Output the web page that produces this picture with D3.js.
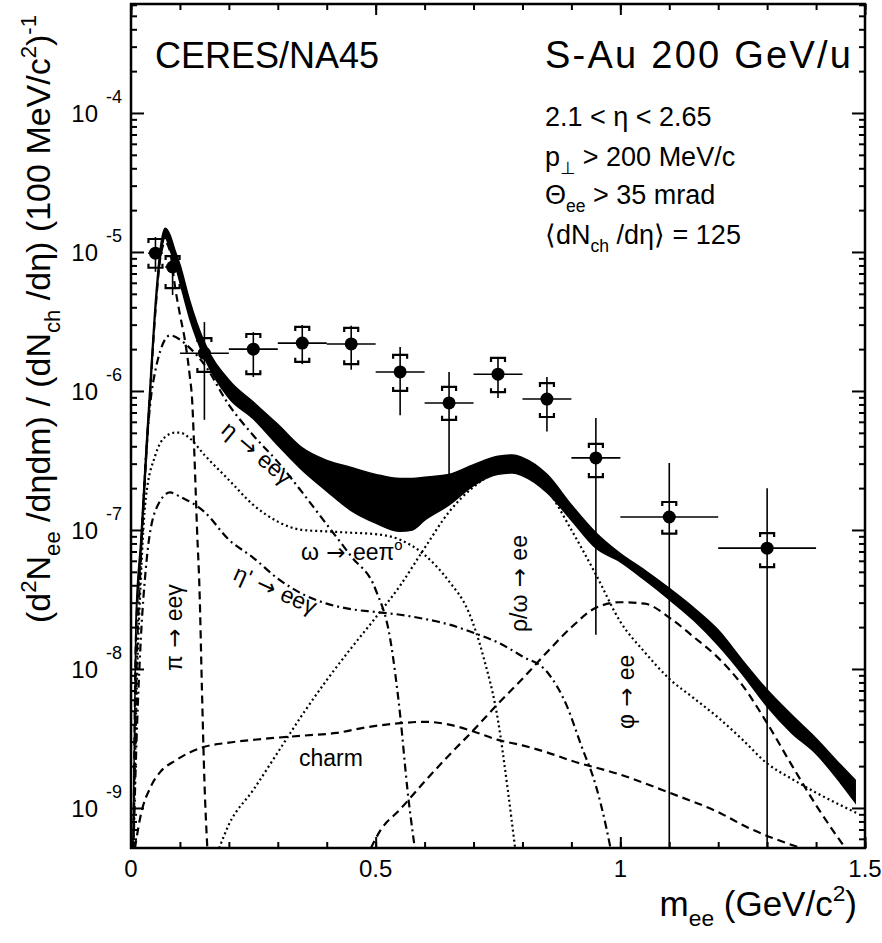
<!DOCTYPE html>
<html>
<head>
<meta charset="utf-8">
<script src="https://cdn.jsdelivr.net/npm/d3@7"></script>
<style>
  body { margin: 0; background: #fff; }
  text { font-family: "Liberation Sans", Arial, Helvetica, sans-serif; fill: #000; }
</style>
</head>
<body>
<svg id="chart" width="882" height="943"></svg>
<script>
// measured points (CERES/NA45 S-Au), bin centres in GeV/c^2
var dataM = [0.05, 0.085, 0.15, 0.25, 0.35, 0.45, 0.55, 0.65, 0.75, 0.85, 0.95, 1.1, 1.3];
var dataHalfWidth = [0.015, 0.015, 0.05, 0.05, 0.05, 0.05, 0.05, 0.05, 0.05, 0.05, 0.05, 0.1, 0.1];
var dataYield = [9.8e-6, 7.8e-6, 1.87e-6, 2.0e-6, 2.21e-6, 2.18e-6, 1.37e-6, 8.2e-7, 1.32e-6, 8.75e-7, 3.3e-7, 1.24e-7, 7.4e-8];
var statHi = [1.28e-5, 1.03e-5, 3.13e-6, 2.65e-6, 2.98e-6, 2.94e-6, 2.07e-6, 1.37e-6, 1.73e-6, 1.26e-6, 6.4e-7, 3.03e-7, 2.0e-7];
var statLo = [7.2e-6, 4.9e-6, 6.2e-7, 1.26e-6, 1.56e-6, 1.42e-6, 6.7e-7, 2.4e-7, 8.9e-7, 5.1e-7, 1.76e-8, 1e-10, 1e-10];
var sysHi = [1.24e-5, 9.35e-6, 2.4e-6, 2.57e-6, 2.89e-6, 2.84e-6, 1.82e-6, 1.07e-6, 1.73e-6, 1.14e-6, 4.16e-7, 1.59e-7, 9.5e-8];
var sysLo = [7.7e-6, 5.5e-6, 1.37e-6, 1.32e-6, 1.62e-6, 1.56e-6, 1.0e-6, 6.2e-7, 9.8e-7, 6.5e-7, 2.4e-7, 9.4e-8, 5.4e-8];

// cocktail curves, values given as log10 of the yield
var bandM = [0.004, 0.01, 0.02, 0.03, 0.04, 0.05, 0.06, 0.07, 0.08, 0.09, 0.1, 0.12, 0.15, 0.2, 0.25, 0.3, 0.35, 0.4, 0.45, 0.5, 0.55, 0.575, 0.6, 0.65, 0.7, 0.75, 0.78, 0.8, 0.85, 0.9, 0.95, 1.0, 1.05, 1.1, 1.15, 1.2, 1.25, 1.3, 1.35, 1.4, 1.45, 1.48];
var bandHi = [-9.3, -7.65, -7.07, -6.46, -5.89, -5.35, -4.97, -4.83, -4.88, -4.99, -5.09, -5.35, -5.65, -5.92, -6.08, -6.24, -6.41, -6.50, -6.55, -6.60, -6.63, -6.63, -6.62, -6.60, -6.53, -6.47, -6.46, -6.48, -6.60, -6.82, -7.02, -7.17, -7.29, -7.42, -7.56, -7.72, -7.94, -8.15, -8.33, -8.50, -8.69, -8.80];
var bandLo = [-9.3, -7.72, -7.18, -6.57, -5.99, -5.43, -5.04, -4.90, -4.99, -5.09, -5.22, -5.48, -5.76, -6.05, -6.20, -6.39, -6.57, -6.72, -6.86, -6.95, -7.01, -7.00, -6.93, -6.82, -6.68, -6.60, -6.59, -6.61, -6.73, -6.93, -7.13, -7.23, -7.36, -7.50, -7.65, -7.83, -8.04, -8.27, -8.46, -8.61, -8.82, -8.96];

var piM = [0.005, 0.01, 0.02, 0.03, 0.04, 0.05, 0.06, 0.07, 0.08, 0.09, 0.1, 0.11, 0.12, 0.125, 0.13, 0.135, 0.14, 0.145, 0.15, 0.156];
var piY = [-9.3, -7.79, -7.18, -6.53, -5.96, -5.42, -5.04, -4.93, -5.00, -5.25, -5.45, -5.63, -5.89, -6.07, -6.50, -7.00, -7.43, -8.15, -8.80, -9.29];

var etaM = [0.005, 0.01, 0.02, 0.03, 0.04, 0.05, 0.06, 0.08, 0.1, 0.12, 0.15, 0.2, 0.25, 0.3, 0.35, 0.4, 0.45, 0.5, 0.53, 0.55, 0.565, 0.58];
var etaY = [-9.3, -8.22, -7.22, -6.50, -6.07, -5.85, -5.71, -5.60, -5.63, -5.69, -5.81, -6.10, -6.32, -6.51, -6.73, -6.96, -7.19, -7.43, -7.79, -8.33, -8.87, -9.29];

var omegaM = [0.005, 0.01, 0.02, 0.03, 0.05, 0.07, 0.09, 0.1, 0.12, 0.15, 0.2, 0.25, 0.3, 0.35, 0.4, 0.45, 0.5, 0.55, 0.6, 0.65, 0.69, 0.72, 0.75, 0.77, 0.785];
var omegaY = [-9.3, -8.37, -7.36, -6.78, -6.46, -6.33, -6.30, -6.30, -6.34, -6.46, -6.64, -6.82, -6.94, -7.00, -7.01, -7.02, -7.03, -7.07, -7.18, -7.37, -7.59, -7.91, -8.37, -8.87, -9.29];

var etapM = [0.005, 0.01, 0.02, 0.03, 0.05, 0.08, 0.1, 0.15, 0.2, 0.25, 0.3, 0.35, 0.4, 0.45, 0.5, 0.55, 0.6, 0.65, 0.7, 0.75, 0.8, 0.85, 0.89, 0.92, 0.95, 0.97, 0.98];
var etapY = [-9.3, -8.66, -7.79, -7.29, -6.86, -6.73, -6.76, -6.87, -7.07, -7.20, -7.35, -7.46, -7.53, -7.57, -7.59, -7.61, -7.64, -7.68, -7.74, -7.81, -7.91, -8.02, -8.26, -8.55, -8.84, -9.12, -9.29];

var rhoM = [0.18, 0.2, 0.25, 0.3, 0.35, 0.4, 0.45, 0.5, 0.55, 0.6, 0.65, 0.7, 0.75, 0.78, 0.8, 0.85, 0.9, 0.95, 1.0, 1.05, 1.1, 1.15, 1.2, 1.25, 1.3, 1.35, 1.4, 1.45, 1.485];
var rhoY = [-9.29, -9.12, -8.87, -8.60, -8.33, -8.08, -7.85, -7.63, -7.40, -7.13, -6.87, -6.69, -6.58, -6.55, -6.58, -6.71, -7.00, -7.32, -7.66, -7.88, -8.07, -8.21, -8.35, -8.51, -8.68, -8.79, -8.89, -8.98, -9.04];

var phiM = [0.49, 0.51, 0.55, 0.6, 0.65, 0.7, 0.75, 0.8, 0.85, 0.9, 0.95, 1.0, 1.05, 1.1, 1.15, 1.2, 1.25, 1.3, 1.35, 1.4, 1.44, 1.46];
var phiY = [-9.29, -9.16, -9.01, -8.81, -8.62, -8.44, -8.25, -8.07, -7.88, -7.70, -7.56, -7.52, -7.53, -7.63, -7.77, -7.92, -8.12, -8.39, -8.69, -8.98, -9.19, -9.29];

var charmM = [0.008, 0.02, 0.04, 0.06, 0.09, 0.15, 0.2, 0.28, 0.35, 0.42, 0.48, 0.55, 0.6, 0.65, 0.7, 0.75, 0.8, 0.85, 0.9, 1.0, 1.1, 1.2, 1.26, 1.37];
var charmY = [-9.29, -9.05, -8.85, -8.74, -8.66, -8.56, -8.53, -8.50, -8.48, -8.46, -8.42, -8.39, -8.38, -8.40, -8.45, -8.51, -8.55, -8.60, -8.66, -8.76, -8.89, -9.03, -9.14, -9.29];

var xMajorTicks = [0, 0.5, 1, 1.5];
var xTickLabels = ["0", "0.5", "1", "1.5"];
var yDecades = [-9, -8, -7, -6, -5, -4];

var width = 882, height = 943;
var plotLeft = 131, plotRight = 865, plotTop = 4, plotBottom = 848;

var svg = d3.select("#chart");

var x = d3.scaleLinear().domain([0, 1.5]).range([plotLeft, plotRight]);
var y = d3.scaleLog()
  .domain([Math.pow(10, -9.288), Math.pow(10, -3.216)])
  .range([plotBottom, plotTop]);

var pow10 = function(v) { return Math.pow(10, v); };

svg.append("clipPath").attr("id", "plotclip")
  .append("rect")
  .attr("x", plotLeft).attr("y", plotTop)
  .attr("width", plotRight - plotLeft).attr("height", plotBottom - plotTop);

var plot = svg.append("g").attr("clip-path", "url(#plotclip)");

// total cocktail band
var band = bandM.map(function(m, i) { return {m: m, hi: pow10(bandHi[i]), lo: pow10(bandLo[i])}; });
plot.append("path")
  .datum(band)
  .attr("d", d3.area()
    .x(function(d) { return x(d.m); })
    .y0(function(d) { return y(d.lo); })
    .y1(function(d) { return y(d.hi); })
    .curve(d3.curveMonotoneX))
  .attr("fill", "#000")
  .attr("stroke", "#000")
  .attr("stroke-width", 1.5);

// individual sources
var sources = [
  {m: piM, v: piY, dash: "8,5"},
  {m: etaM, v: etaY, dash: "8,4,2,4"},
  {m: omegaM, v: omegaY, dash: "2,3"},
  {m: etapM, v: etapY, dash: "8,4,2,4"},
  {m: rhoM, v: rhoY, dash: "2,3"},
  {m: phiM, v: phiY, dash: "8,5"},
  {m: charmM, v: charmY, dash: "8,5"}
];

var line = d3.line()
  .x(function(d) { return x(d[0]); })
  .y(function(d) { return y(d[1]); })
  .curve(d3.curveMonotoneX);

sources.forEach(function(s) {
  plot.append("path")
    .datum(s.m.map(function(m, i) { return [m, pow10(s.v[i])]; }))
    .attr("d", line)
    .attr("fill", "none")
    .attr("stroke", "#000")
    .attr("stroke-width", 2.2)
    .attr("stroke-dasharray", s.dash);
});

// data points with errors
var points = dataM.map(function(m, i) {
  return {m: m, w: dataHalfWidth[i], v: dataYield[i],
    sHi: statHi[i], sLo: statLo[i], yHi: sysHi[i], yLo: sysLo[i]};
});

var pts = plot.selectAll("g.pt").data(points).enter().append("g").attr("class", "pt");

pts.append("line")
  .attr("x1", function(d) { return x(d.m - d.w); })
  .attr("x2", function(d) { return x(d.m + d.w); })
  .attr("y1", function(d) { return y(d.v); })
  .attr("y2", function(d) { return y(d.v); })
  .attr("stroke", "#000").attr("stroke-width", 1.6);

pts.append("line")
  .attr("x1", function(d) { return x(d.m); })
  .attr("x2", function(d) { return x(d.m); })
  .attr("y1", function(d) { return y(d.sHi); })
  .attr("y2", function(d) { return y(d.sLo); })
  .attr("stroke", "#000").attr("stroke-width", 1.6);

var capW = 7, capH = 4;
pts.append("path")
  .attr("d", function(d) {
    var cx = x(d.m), t = y(d.yHi), b = y(d.yLo);
    return "M" + (cx - capW) + "," + (t + capH) + "V" + t + "H" + (cx + capW) + "V" + (t + capH) +
      "M" + (cx - capW) + "," + (b - capH) + "V" + b + "H" + (cx + capW) + "V" + (b - capH);
  })
  .attr("fill", "none").attr("stroke", "#000").attr("stroke-width", 2.2);

pts.append("circle")
  .attr("cx", function(d) { return x(d.m); })
  .attr("cy", function(d) { return y(d.v); })
  .attr("r", 6.5)
  .attr("fill", "#000");

// frame and ticks
svg.append("rect")
  .attr("x", plotLeft).attr("y", plotTop)
  .attr("width", plotRight - plotLeft).attr("height", plotBottom - plotTop)
  .attr("fill", "none").attr("stroke", "#000").attr("stroke-width", 2.5);

var xMinor = d3.range(0, 16).map(function(i) { return i / 10; });
var yMinor = [];
for (var k = -10; k <= -4; k++) {
  for (var j = 2; j <= 9; j++) yMinor.push(j * Math.pow(10, k));
}
yMinor = yMinor.filter(function(v) { return v > y.domain()[0] && v < y.domain()[1]; });
var yMajor = yDecades.map(pow10);

function tickGroup(axis, tx) {
  var g = svg.append("g").attr("transform", tx).call(axis);
  g.select(".domain").remove();
  g.selectAll("line").attr("stroke", "#000").attr("stroke-width", 2);
  g.selectAll("text").remove();
  return g;
}

tickGroup(d3.axisBottom(x).tickValues(xMinor).tickSize(-6), "translate(0," + plotBottom + ")");
tickGroup(d3.axisBottom(x).tickValues(xMajorTicks).tickSize(-11), "translate(0," + plotBottom + ")");
tickGroup(d3.axisTop(x).tickValues(xMinor).tickSize(-6), "translate(0," + plotTop + ")");
tickGroup(d3.axisTop(x).tickValues(xMajorTicks).tickSize(-11), "translate(0," + plotTop + ")");
tickGroup(d3.axisLeft(y).tickValues(yMinor).tickSize(-6), "translate(" + plotLeft + ",0)");
tickGroup(d3.axisLeft(y).tickValues(yMajor).tickSize(-13), "translate(" + plotLeft + ",0)");
tickGroup(d3.axisRight(y).tickValues(yMinor).tickSize(-6), "translate(" + plotRight + ",0)");
tickGroup(d3.axisRight(y).tickValues(yMajor).tickSize(-13), "translate(" + plotRight + ",0)");

// tick labels
svg.selectAll("text.xtick").data(xMajorTicks).enter().append("text")
  .attr("class", "xtick")
  .attr("x", function(d) { return x(d); })
  .attr("y", 877)
  .attr("text-anchor", "middle")
  .style("font-size", "24px")
  .text(function(d, i) { return xTickLabels[i]; });

var ylab = svg.selectAll("g.ytick").data(yDecades).enter().append("g")
  .attr("class", "ytick")
  .attr("transform", function(d) { return "translate(0," + y(pow10(d)) + ")"; });
ylab.append("text")
  .attr("x", 98).attr("y", 9)
  .attr("text-anchor", "end")
  .style("font-size", "24px")
  .text("10");
ylab.append("text")
  .attr("x", 106).attr("y", -10)
  .style("font-size", "18px")
  .text(function(d) { return "-" + Math.abs(d); });

// text with sub/superscripts
function richText(sel, parts, size) {
  var shift = 0;
  parts.forEach(function(p) {
    var target = p.sup ? -0.42 * size : (p.sub ? 0.28 * size : 0);
    var ts = sel.append("tspan")
      .attr("dy", target - shift)
      .style("font-size", (p.sup || p.sub ? size * 0.65 : size) + "px")
      .text(p.t);
    if (p.font) ts.style("font-family", p.font);
    shift = target;
  });
  return sel;
}

richText(svg.append("text").attr("x", 857).attr("y", 916).attr("text-anchor", "end"),
  [{t: "m"}, {t: "ee", sub: true}, {t: " (GeV/c"}, {t: "2", sup: true}, {t: ")"}], 35);

richText(svg.append("text").attr("transform", "translate(50,623) rotate(-90)"),
  [{t: "(d"}, {t: "2", sup: true}, {t: "N"}, {t: "ee", sub: true}, {t: " /d\u03b7dm) / (dN"},
   {t: "ch", sub: true}, {t: " /d\u03b7) (100 MeV/c"}, {t: "2", sup: true}, {t: ")"}, {t: "-1", sup: true}], 34);

svg.append("text").attr("x", 155).attr("y", 68).style("font-size", "36px").text("CERES/NA45");
svg.append("text").attr("x", 545).attr("y", 68)
  .attr("textLength", 306).attr("lengthAdjust", "spacing")
  .style("font-size", "38px").text("S-Au 200 GeV/u");

var infoX = 545;
richText(svg.append("text").attr("x", infoX).attr("y", 126), [{t: "2.1 < \u03b7 < 2.65"}], 27);
richText(svg.append("text").attr("x", infoX).attr("y", 166),
  [{t: "p"}, {t: "\u22a5", sub: true, font: "DejaVu Sans"}, {t: " > 200 MeV/c"}], 27);
richText(svg.append("text").attr("x", infoX).attr("y", 204), [{t: "\u0398"}, {t: "ee", sub: true}, {t: " > 35 mrad"}], 27);
richText(svg.append("text").attr("x", infoX).attr("y", 244), [{t: "\u27e8dN"}, {t: "ch", sub: true}, {t: " /d\u03b7\u27e9 = 125"}], 27);

// source labels, arrows taken from DejaVu for a longer glyph
var arrow = {t: " \u2192 ", font: "DejaVu Sans"};
var lab = function(tx, parts, size) {
  return richText(svg.append("text").attr("transform", tx), parts, size);
};
lab("translate(220,432) rotate(40)", [{t: "\u03b7"}, arrow, {t: "ee\u03b3"}], 23);
lab("translate(301,560)", [{t: "\u03c9"}, arrow, {t: "ee\u03c0"}, {t: "o", sup: true}], 23);
lab("translate(232,579) rotate(24)", [{t: "\u03b7'"}, arrow, {t: "ee\u03b3"}], 23);
lab("translate(182,671) rotate(-90)", [{t: "\u03c0"}, arrow, {t: "ee\u03b3"}], 23);
lab("translate(527,632) rotate(-90)", [{t: "\u03c1/\u03c9"}, arrow, {t: "ee"}], 23);
lab("translate(634,729) rotate(-90)", [{t: "\u03c6"}, arrow, {t: "ee"}], 23);
lab("translate(299,766)", [{t: "charm"}], 23);
</script>
</body>
</html>
